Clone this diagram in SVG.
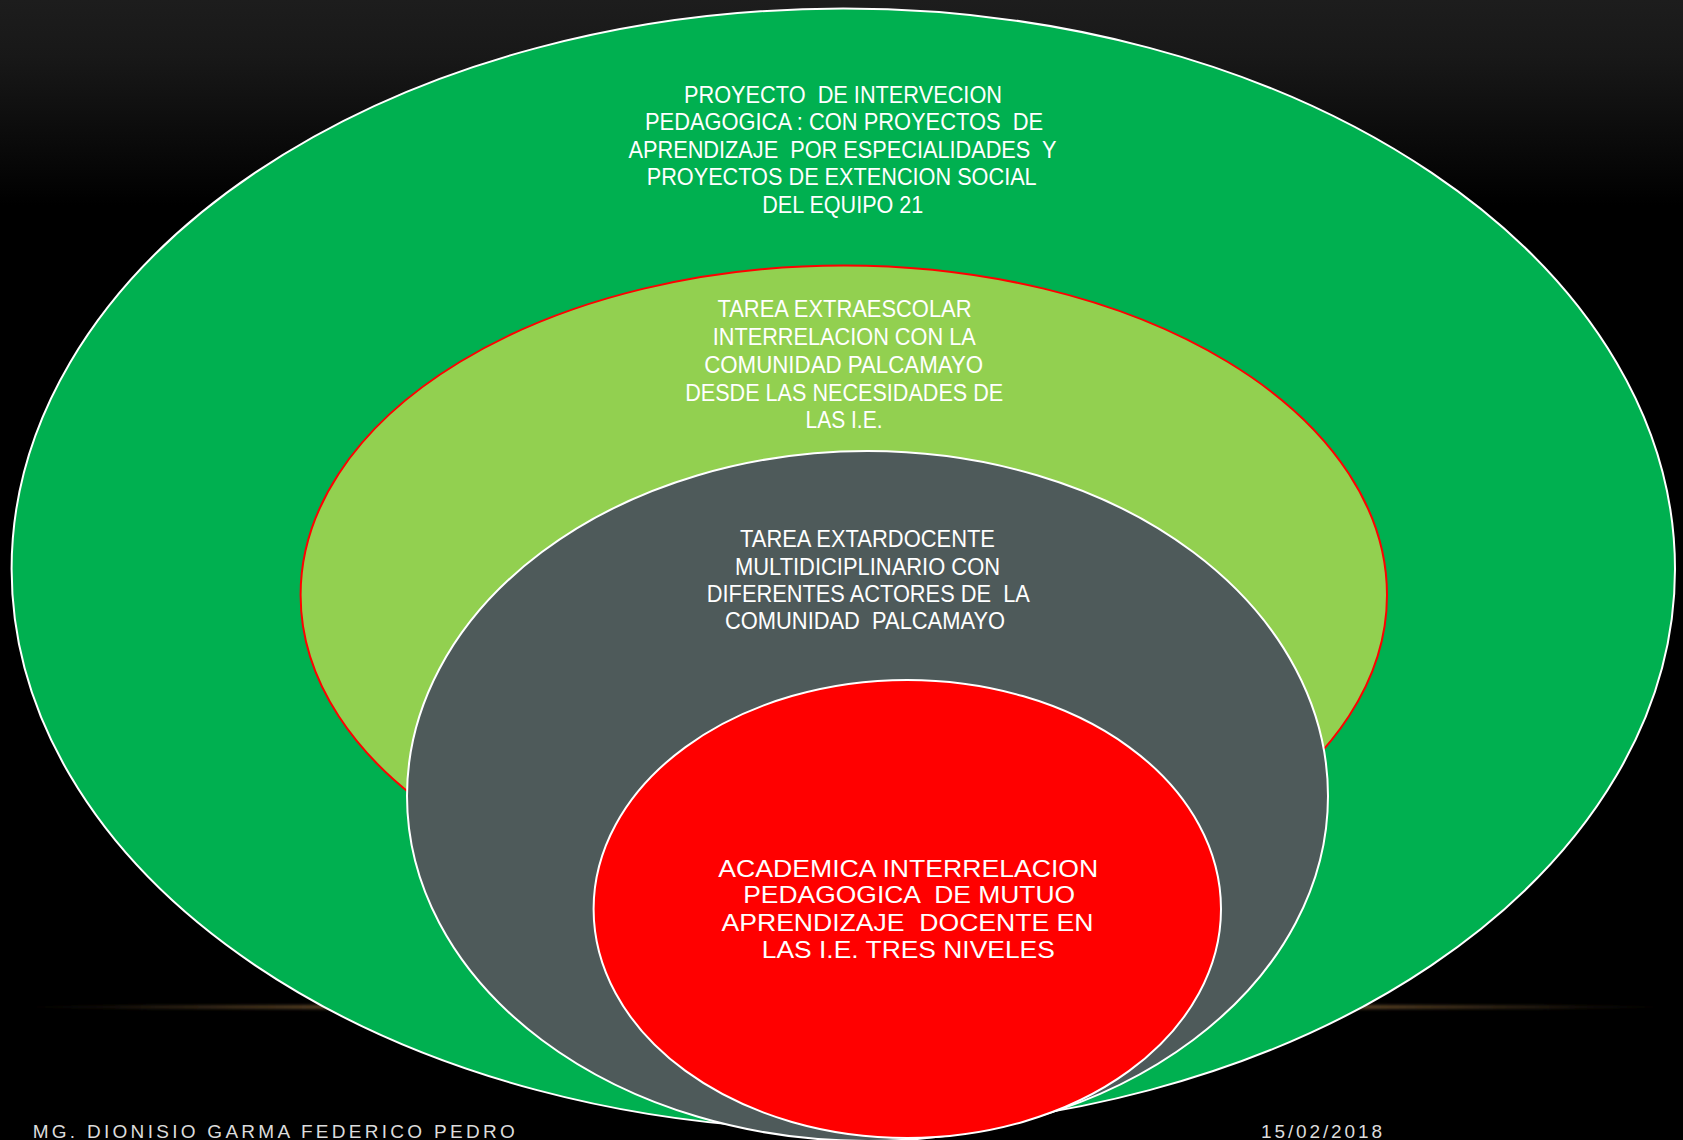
<svg xmlns="http://www.w3.org/2000/svg" width="1683" height="1140" viewBox="0 0 1683 1140">
  <defs>
    <linearGradient id="bg" x1="0" y1="0" x2="0" y2="1">
      <stop offset="0" stop-color="#1d1d1d"/>
      <stop offset="0.05" stop-color="#181818"/>
      <stop offset="0.18" stop-color="#000000"/>
      <stop offset="1" stop-color="#000000"/>
    </linearGradient>
    <radialGradient id="glow" cx="0.5" cy="0.5" r="0.5">
      <stop offset="0" stop-color="#c8965a" stop-opacity="1"/>
      <stop offset="0.6" stop-color="#8a6638" stop-opacity="0.85"/>
      <stop offset="0.85" stop-color="#5a4326" stop-opacity="0.5"/>
      <stop offset="1" stop-color="#3a2a18" stop-opacity="0"/>
    </radialGradient>
    <filter id="blur" x="-5%" y="-200%" width="110%" height="500%">
      <feGaussianBlur stdDeviation="1.5"/>
    </filter>
    <style>
      .lbl { font-family: "Liberation Sans", Arial, sans-serif; font-size: 24px; fill: #ffffff; text-anchor: middle; }
      .foot { font-family: "Liberation Sans", Arial, sans-serif; font-size: 19px; fill: #dcdcdc; }
      .ring { stroke-width: 2; }
    </style>
  </defs>

  <rect x="0" y="0" width="1683" height="1140" fill="url(#bg)"/>
  <ellipse cx="845" cy="1007" rx="830" ry="3.5" fill="url(#glow)" filter="url(#blur)"/>

  <g id="node-outer">
    <ellipse class="ring" cx="843.3" cy="569" rx="831.7" ry="560.5" fill="#00B050" stroke="#ffffff"/>
    <text class="lbl" xml:space="preserve"><tspan x="843" y="103" textLength="318" lengthAdjust="spacingAndGlyphs">PROYECTO  DE INTERVECION</tspan></text>
    <text class="lbl" xml:space="preserve"><tspan x="844" y="130" textLength="398" lengthAdjust="spacingAndGlyphs">PEDAGOGICA : CON PROYECTOS  DE</tspan></text>
    <text class="lbl" xml:space="preserve"><tspan x="842.5" y="158" textLength="428" lengthAdjust="spacingAndGlyphs">APRENDIZAJE  POR ESPECIALIDADES  Y</tspan></text>
    <text class="lbl" xml:space="preserve"><tspan x="841.7" y="185" textLength="390" lengthAdjust="spacingAndGlyphs">PROYECTOS DE EXTENCION SOCIAL</tspan></text>
    <text class="lbl" xml:space="preserve"><tspan x="842.8" y="213" textLength="161" lengthAdjust="spacingAndGlyphs">DEL EQUIPO 21</tspan></text>
  </g>

  <g id="node-extraescolar">
    <ellipse class="ring" cx="843.8" cy="595" rx="543.2" ry="329.5" fill="#92D050" stroke="#ff0000"/>
    <text class="lbl" xml:space="preserve"><tspan x="844.5" y="317" textLength="254" lengthAdjust="spacingAndGlyphs">TAREA EXTRAESCOLAR</tspan></text>
    <text class="lbl" xml:space="preserve"><tspan x="844.2" y="345" textLength="263" lengthAdjust="spacingAndGlyphs">INTERRELACION CON LA</tspan></text>
    <text class="lbl" xml:space="preserve"><tspan x="843.7" y="373" textLength="279" lengthAdjust="spacingAndGlyphs">COMUNIDAD PALCAMAYO</tspan></text>
    <text class="lbl" xml:space="preserve"><tspan x="844.2" y="401" textLength="318" lengthAdjust="spacingAndGlyphs">DESDE LAS NECESIDADES DE</tspan></text>
    <text class="lbl" xml:space="preserve"><tspan x="844" y="428" textLength="77" lengthAdjust="spacingAndGlyphs">LAS I.E.</tspan></text>
  </g>

  <g id="node-extardocente">
    <ellipse class="ring" cx="867.5" cy="796" rx="460.5" ry="345" fill="#4E5A5A" stroke="#ffffff"/>
    <text class="lbl" xml:space="preserve"><tspan x="867.5" y="547" textLength="255" lengthAdjust="spacingAndGlyphs">TAREA EXTARDOCENTE</tspan></text>
    <text class="lbl" xml:space="preserve"><tspan x="867.5" y="575" textLength="265" lengthAdjust="spacingAndGlyphs">MULTIDICIPLINARIO CON</tspan></text>
    <text class="lbl" xml:space="preserve"><tspan x="868.3" y="602" textLength="323" lengthAdjust="spacingAndGlyphs">DIFERENTES ACTORES DE  LA</tspan></text>
    <text class="lbl" xml:space="preserve"><tspan x="865" y="629" textLength="280" lengthAdjust="spacingAndGlyphs">COMUNIDAD  PALCAMAYO</tspan></text>
  </g>

  <g id="node-academica">
    <ellipse class="ring" cx="907.3" cy="909" rx="313.7" ry="229" fill="#FF0000" stroke="#ffffff"/>
    <text class="lbl" xml:space="preserve"><tspan x="908.3" y="877" textLength="380" lengthAdjust="spacingAndGlyphs">ACADEMICA INTERRELACION</tspan></text>
    <text class="lbl" xml:space="preserve"><tspan x="909.2" y="903" textLength="332" lengthAdjust="spacingAndGlyphs">PEDAGOGICA  DE MUTUO</tspan></text>
    <text class="lbl" xml:space="preserve"><tspan x="907.5" y="931" textLength="372" lengthAdjust="spacingAndGlyphs">APRENDIZAJE  DOCENTE EN</tspan></text>
    <text class="lbl" xml:space="preserve"><tspan x="908.3" y="958" textLength="293" lengthAdjust="spacingAndGlyphs">LAS I.E. TRES NIVELES</tspan></text>
  </g>

  <g id="connectors"></g>

  <g id="footer">
    <text class="foot" x="32.7" y="1138" textLength="482" lengthAdjust="spacing">MG. DIONISIO GARMA FEDERICO PEDRO</text>
    <text class="foot" x="1261" y="1138" textLength="121" lengthAdjust="spacing">15/02/2018</text>
  </g>
</svg>
